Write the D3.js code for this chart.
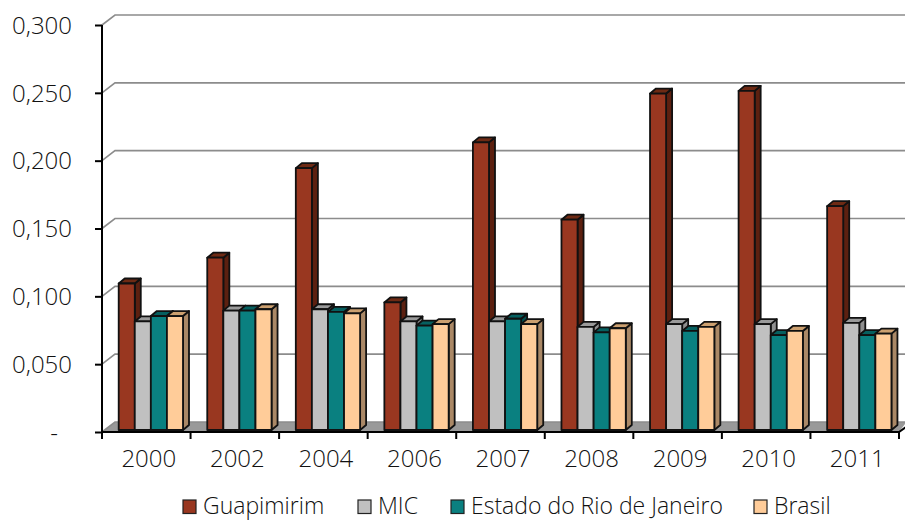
<!DOCTYPE html>
<html><head><meta charset="utf-8">
<script src="https://cdn.jsdelivr.net/npm/d3@7/dist/d3.min.js"></script>
<style>html,body{margin:0;background:#fff}svg{display:block}text{font-family:"Open Sans",sans-serif;font-weight:300;fill:#111}</style>
</head><body><svg id="c" width="905" height="520"></svg>
<script>
const categories=["2000","2002","2004","2006","2007","2008","2009","2010","2011"];
const seriesNames=["Guapimirim","MIC","Estado do Rio de Janeiro","Brasil"];
const guapimirim=[.108,.127,.193,.094,.212,.155,.248,.250,.165];
const mic=[.080,.088,.089,.080,.080,.076,.078,.078,.079];
const estado=[.084,.088,.087,.077,.082,.072,.073,.070,.070];
const brasil=[.084,.089,.086,.078,.078,.075,.076,.073,.071];
const seriesValues=[guapimirim,mic,estado,brasil];
const yTicks=[0,.05,.1,.15,.2,.25,.3];
const yTickLabels=["-","0,050","0,100","0,150","0,200","0,250","0,300"];
const faceColors=["#993720","#c0c0c0","#0a8080","#ffcc99"];
const sideColors=["#5c2010","#8f8f8f","#065050","#aa8866"];
const topColors=["#6e2a14","#9a9a9a","#066060","#cca070"];
const legendX=[183,358,451,754];

const svg=d3.select("#c");
const x=d3.scaleBand().domain(categories).range([102,899]);
const y=d3.scaleLinear().domain([0,.3]).range([432,25]);
const inner=d3.scaleBand().domain(d3.range(4)).range([16.7,81]);
const wall={dx:13,dy:-10}, barOff={dx:0,dy:-2}, depth={dx:6,dy:-5};

// floor
svg.append("path").attr("fill","#999").attr("d",
 `M${x.range()[0]},${y(0)}L${x.range()[0]+wall.dx},${y(0)+wall.dy}H905V${y(0)+wall.dy+2}L${x.range()[1]},${y(0)}Z`);
// gridlines with wall returns
yTicks.forEach(t=>{
  svg.append("path").attr("fill","none").attr("stroke","#8c8c8c").attr("stroke-width",1.6).attr("d",
   `M${x.range()[0]},${y(t)}l${wall.dx},${wall.dy}H905`);
});
// bars
categories.forEach((c,i)=>{
  seriesValues.forEach((vals,s)=>{
    const bx=x(c)+inner(s), w=inner.bandwidth(), base=y(0)+barOff.dy, top=y(vals[i])+barOff.dy;
    const g=svg.append("g").attr("stroke","#111").attr("stroke-width",1.8).attr("stroke-linejoin","round");
    g.append("path").attr("fill",sideColors[s]).attr("d",`M${bx+w},${top}l${depth.dx},${depth.dy}V${base+depth.dy}l${-depth.dx},${-depth.dy}Z`);
    g.append("path").attr("fill",topColors[s]).attr("d",`M${bx},${top}l${depth.dx},${depth.dy}h${w}l${-depth.dx},${-depth.dy}Z`);
    g.append("rect").attr("fill",faceColors[s]).attr("x",bx).attr("y",top).attr("width",w).attr("height",base-top);
  });
});
// axes
const yAxis=d3.axisLeft(y).tickValues(yTicks).tickFormat((d,i)=>yTickLabels[i]).tickSize(7).tickPadding(23);
const gy=svg.append("g").attr("transform","translate(102,0)").call(yAxis);
gy.selectAll("path,line").attr("stroke","#000").attr("stroke-width",2);
gy.select(".domain").attr("d",`M0,${y(.3)}V${y(0)+7}`);
gy.selectAll("text").style("font-family",'"Open Sans",sans-serif').style("font-size","24px").attr("fill","#111").attr("dy","0.34em");
gy.selectAll("text").filter((d,i)=>i===0).attr("dx",-14);
const xAxis=d3.axisBottom(x).tickSize(0).tickPadding(18);
const gx=svg.append("g").attr("transform",`translate(0,${y(0)})`).call(xAxis);
gx.select(".domain").attr("stroke","#000").attr("stroke-width",2).attr("d",`M102,0H899l7,-5`);
gx.selectAll("text").style("font-family",'"Open Sans",sans-serif').style("font-size","24px").attr("fill","#111").attr("dx",2.5);
gx.selectAll(".tk").data(d3.range(categories.length+1)).enter().append("line").attr("class","tk")
  .attr("x1",i=>102+i*x.step()).attr("x2",i=>102+i*x.step()).attr("y1",0).attr("y2",7).attr("stroke","#000").attr("stroke-width",2);
// legend
seriesNames.forEach((n,s)=>{
  svg.append("rect").attr("x",legendX[s]).attr("y",500).attr("width",13).attr("height",13.5).attr("fill",faceColors[s]).attr("stroke","#222").attr("stroke-width",1.2);
  svg.append("text").attr("x",legendX[s]+20).attr("y",514).style("font-size","23px").text(n);
});
</script></body></html>
